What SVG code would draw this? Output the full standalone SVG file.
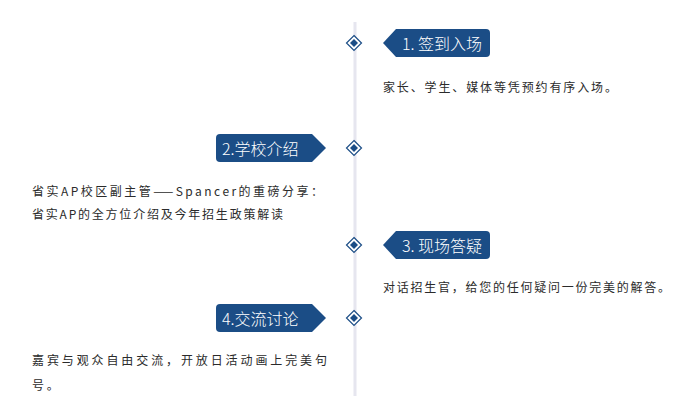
<svg xmlns="http://www.w3.org/2000/svg" width="696" height="405" viewBox="0 0 696 405">
<defs>
<style>
.bg{fill:#ffffff}
.axis{stroke:#e6e6ef;stroke-width:3}
.tag{fill:#1b4d86}
.tagtext{fill:#ffffff;font-family:"Noto Sans CJK SC","Liberation Sans",sans-serif;font-size:16px;font-weight:300}
.body{fill:#2b2b2b;font-family:"Noto Sans CJK SC","Liberation Sans",sans-serif;font-size:12px}
.dmo{fill:#ffffff;stroke:#1b4d86;stroke-width:1.2}
.dmi{fill:#1b4d86}
</style>
<g id="dia">
<path class="dmo" d="M0,-7.5 L7.5,0 L0,7.5 L-7.5,0 Z"/>
<path class="dmi" d="M0,-4 L4,0 L0,4 L-4,0 Z"/>
</g>
</defs>
<rect class="bg" x="0" y="0" width="696" height="405"/>
<g id="connectors">
<line class="axis" x1="355" y1="22" x2="355" y2="396"/>
</g>
<g id="step1">
<use href="#dia" x="354" y="43"/>
<path class="tag" d="M383,43 L396,29 L486,29 Q490,29 490,33 L490,53 Q490,57 486,57 L396,57 Z"/>
<text class="tagtext" x="402" y="49.5">1. 签到入场</text>
<text class="body" x="383" y="92" textLength="234" lengthAdjust="spacing">家长、学生、媒体等凭预约有序入场。</text>
</g>
<g id="step2">
<use href="#dia" x="354" y="148"/>
<path class="tag" d="M326,148 L312,134 L220,134 Q216,134 216,138 L216,158 Q216,162 220,162 L312,162 Z"/>
<text class="tagtext" x="222" y="154.5">2.学校介绍</text>
<text class="body" x="32" y="196" textLength="291" lengthAdjust="spacing">省实AP校区副主管——Spancer的重磅分享：</text>
<text class="body" x="32" y="219" textLength="251" lengthAdjust="spacing">省实AP的全方位介绍及今年招生政策解读</text>
</g>
<g id="step3">
<use href="#dia" x="354" y="245"/>
<path class="tag" d="M383,245 L396,231 L486,231 Q490,231 490,235 L490,255 Q490,259 486,259 L396,259 Z"/>
<text class="tagtext" x="402" y="251.5">3. 现场答疑</text>
<text class="body" x="383" y="292" textLength="287" lengthAdjust="spacing">对话招生官，给您的任何疑问一份完美的解答。</text>
</g>
<g id="step4">
<use href="#dia" x="354" y="318"/>
<path class="tag" d="M326,318 L312,304 L220,304 Q216,304 216,308 L216,328 Q216,332 220,332 L312,332 Z"/>
<text class="tagtext" x="222" y="324.5">4.交流讨论</text>
<text class="body" x="32" y="365" textLength="295" lengthAdjust="spacing">嘉宾与观众自由交流，开放日活动画上完美句</text>
<text class="body" x="32" y="390" letter-spacing="2.8">号。</text>
</g>
</svg>
